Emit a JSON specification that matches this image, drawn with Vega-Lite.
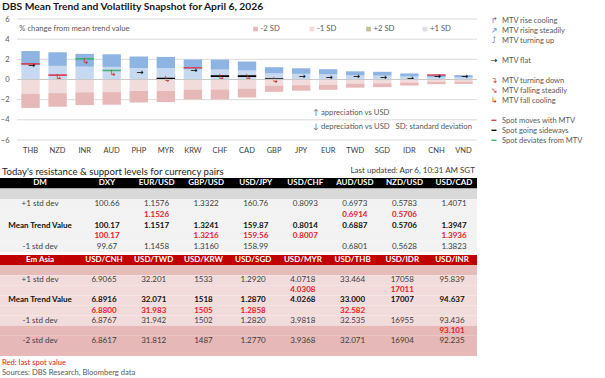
{
  "$schema": "https://vega.github.io/schema/vega-lite/v6.json",
  "width": 605,
  "height": 378,
  "padding": 0,
  "autosize": {"type": "none"},
  "background": "#ffffff",
  "config": {"view": {"stroke": null}, "font": "Lato", "axis": {"labelFont": "Lato"}},
  "datasets": {
    "one": [{"n": 1}],
    "grid": [{"v": -6}, {"v": -4}, {"v": -2}, {"v": 0}, {"v": 2}, {"v": 4}, {"v": 6}],
    "bars": [
      {"cur": "THB", "p1": 1.41, "p2": 2.82, "m1": -1.41, "m2": -2.82},
      {"cur": "NZD", "p1": 1.35, "p2": 2.70, "m1": -1.35, "m2": -2.70},
      {"cur": "INR", "p1": 1.27, "p2": 2.54, "m1": -1.27, "m2": -2.54},
      {"cur": "AUD", "p1": 1.25, "p2": 2.50, "m1": -1.25, "m2": -2.50},
      {"cur": "PHP", "p1": 1.14, "p2": 2.28, "m1": -1.14, "m2": -2.28},
      {"cur": "MYR", "p1": 1.12, "p2": 2.24, "m1": -1.12, "m2": -2.24},
      {"cur": "KRW", "p1": 0.99, "p2": 1.98, "m1": -0.99, "m2": -1.98},
      {"cur": "CHF", "p1": 0.985, "p2": 1.97, "m1": -0.985, "m2": -1.97},
      {"cur": "CAD", "p1": 0.89, "p2": 1.78, "m1": -0.89, "m2": -1.78},
      {"cur": "GBP", "p1": 0.61, "p2": 1.22, "m1": -0.61, "m2": -1.22},
      {"cur": "JPY", "p1": 0.56, "p2": 1.11, "m1": -0.56, "m2": -1.11},
      {"cur": "EUR", "p1": 0.51, "p2": 1.02, "m1": -0.51, "m2": -1.02},
      {"cur": "TWD", "p1": 0.405, "p2": 0.81, "m1": -0.405, "m2": -0.81},
      {"cur": "SGD", "p1": 0.38, "p2": 0.76, "m1": -0.38, "m2": -0.76},
      {"cur": "IDR", "p1": 0.30, "p2": 0.60, "m1": -0.30, "m2": -0.60},
      {"cur": "CNH", "p1": 0.23, "p2": 0.46, "m1": -0.23, "m2": -0.46},
      {"cur": "VND", "p1": 0.215, "p2": 0.43, "m1": -0.215, "m2": -0.43}
    ],
    "lines": [
      {"cur": "THB", "v": 1.55, "kind": "moves"},
      {"cur": "NZD", "v": 0.43, "kind": "moves"},
      {"cur": "INR", "v": 2.05, "kind": "deviates"},
      {"cur": "AUD", "v": 0.89, "kind": "deviates"},
      {"cur": "MYR", "v": 0.10, "kind": "sideways"},
      {"cur": "KRW", "v": 1.16, "kind": "moves"},
      {"cur": "CHF", "v": 0.33, "kind": "sideways"},
      {"cur": "CAD", "v": 0.33, "kind": "sideways"},
      {"cur": "GBP", "v": 0.04, "kind": "sideways"},
      {"cur": "CNH", "v": 0.45, "kind": "moves"}
    ],
    "arrows": [
      {"cur": "THB", "v": 1.42, "dir": "flat"},
      {"cur": "NZD", "v": 0.23, "dir": "fallcool"},
      {"cur": "INR", "v": 1.80, "dir": "fallcool"},
      {"cur": "AUD", "v": 0.60, "dir": "fallcool"},
      {"cur": "PHP", "v": 0.73, "dir": "flat"},
      {"cur": "MYR", "v": 0.05, "dir": "fallcool"},
      {"cur": "KRW", "v": 0.93, "dir": "flat"},
      {"cur": "CHF", "v": 0.25, "dir": "fallcool"},
      {"cur": "CAD", "v": 0.25, "dir": "fallcool"},
      {"cur": "GBP", "v": -0.06, "dir": "fallcool"},
      {"cur": "JPY", "v": 0.30, "dir": "flat"},
      {"cur": "EUR", "v": 0.20, "dir": "flat"},
      {"cur": "TWD", "v": 0.37, "dir": "flat"},
      {"cur": "SGD", "v": 0.20, "dir": "flat"},
      {"cur": "IDR", "v": 0.18, "dir": "flat"},
      {"cur": "CNH", "v": 0.30, "dir": "flat"},
      {"cur": "VND", "v": 0.30, "dir": "flat"}
    ],
    "sdleg": [
      {"k": "-2 SD"}, {"k": "-1 SD"}, {"k": "+2 SD"}, {"k": "+1 SD"}
    ],
    "mtvleg": [
      {"slot": "s0", "icon": "↱", "label": "MTV rise cooling", "kind": "up"},
      {"slot": "s1", "icon": "↗", "label": "MTV rising steadily", "kind": "up"},
      {"slot": "s2", "icon": "⤴", "label": "MTV turning up", "kind": "up"},
      {"slot": "s4", "icon": "→", "label": "MTV flat", "kind": "flat"},
      {"slot": "s6", "icon": "↴", "label": "MTV turning down", "kind": "down"},
      {"slot": "s7", "icon": "↘", "label": "MTV falling steadily", "kind": "down"},
      {"slot": "s8", "icon": "↳", "label": "MTV fall cooling", "kind": "down"},
      {"slot": "s10", "icon": "━", "label": "Spot moves with MTV", "kind": "moves"},
      {"slot": "s11", "icon": "━", "label": "Spot going sideways", "kind": "sideways"},
      {"slot": "s12", "icon": "━", "label": "Spot deviates from MTV", "kind": "deviates"}
    ],
    "dm_bg": [
      {"row": "hdr", "tone": "hdr"}, {"row": "blank", "tone": "blank"},
      {"row": "r1", "tone": "body"}, {"row": "r2", "tone": "body"}, {"row": "r3", "tone": "body"},
      {"row": "r4", "tone": "body"}, {"row": "r5", "tone": "body"}
    ],
    "dm": [
      {"row": "hdr", "col": "label", "txt": "DM", "sty": "h"},
      {"row": "hdr", "col": "DXY", "txt": "DXY", "sty": "h"},
      {"row": "hdr", "col": "EUR/USD", "txt": "EUR/USD", "sty": "h"},
      {"row": "hdr", "col": "GBP/USD", "txt": "GBP/USD", "sty": "h"},
      {"row": "hdr", "col": "USD/JPY", "txt": "USD/JPY", "sty": "h"},
      {"row": "hdr", "col": "USD/CHF", "txt": "USD/CHF", "sty": "h"},
      {"row": "hdr", "col": "AUD/USD", "txt": "AUD/USD", "sty": "h"},
      {"row": "hdr", "col": "NZD/USD", "txt": "NZD/USD", "sty": "h"},
      {"row": "hdr", "col": "USD/CAD", "txt": "USD/CAD", "sty": "h"},
      {"row": "r1", "col": "label", "txt": "+1 std dev", "sty": "n"},
      {"row": "r1", "col": "DXY", "txt": "100.66", "sty": "n"},
      {"row": "r1", "col": "EUR/USD", "txt": "1.1576", "sty": "n"},
      {"row": "r1", "col": "GBP/USD", "txt": "1.3322", "sty": "n"},
      {"row": "r1", "col": "USD/JPY", "txt": "160.76", "sty": "n"},
      {"row": "r1", "col": "USD/CHF", "txt": "0.8093", "sty": "n"},
      {"row": "r1", "col": "AUD/USD", "txt": "0.6973", "sty": "n"},
      {"row": "r1", "col": "NZD/USD", "txt": "0.5783", "sty": "n"},
      {"row": "r1", "col": "USD/CAD", "txt": "1.4071", "sty": "n"},
      {"row": "r2", "col": "EUR/USD", "txt": "1.1526", "sty": "r"},
      {"row": "r2", "col": "AUD/USD", "txt": "0.6914", "sty": "r"},
      {"row": "r2", "col": "NZD/USD", "txt": "0.5706", "sty": "r"},
      {"row": "r3", "col": "label", "txt": "Mean Trend Value", "sty": "b"},
      {"row": "r3", "col": "DXY", "txt": "100.17", "sty": "b"},
      {"row": "r3", "col": "EUR/USD", "txt": "1.1517", "sty": "b"},
      {"row": "r3", "col": "GBP/USD", "txt": "1.3241", "sty": "b"},
      {"row": "r3", "col": "USD/JPY", "txt": "159.87", "sty": "b"},
      {"row": "r3", "col": "USD/CHF", "txt": "0.8014", "sty": "b"},
      {"row": "r3", "col": "AUD/USD", "txt": "0.6887", "sty": "b"},
      {"row": "r3", "col": "NZD/USD", "txt": "0.5706", "sty": "b"},
      {"row": "r3", "col": "USD/CAD", "txt": "1.3947", "sty": "b"},
      {"row": "r4", "col": "DXY", "txt": "100.17", "sty": "r"},
      {"row": "r4", "col": "GBP/USD", "txt": "1.3216", "sty": "r"},
      {"row": "r4", "col": "USD/JPY", "txt": "159.56", "sty": "r"},
      {"row": "r4", "col": "USD/CHF", "txt": "0.8007", "sty": "r"},
      {"row": "r4", "col": "USD/CAD", "txt": "1.3936", "sty": "r"},
      {"row": "r5", "col": "label", "txt": "-1 std dev", "sty": "n"},
      {"row": "r5", "col": "DXY", "txt": "99.67", "sty": "n"},
      {"row": "r5", "col": "EUR/USD", "txt": "1.1458", "sty": "n"},
      {"row": "r5", "col": "GBP/USD", "txt": "1.3160", "sty": "n"},
      {"row": "r5", "col": "USD/JPY", "txt": "158.99", "sty": "n"},
      {"row": "r5", "col": "AUD/USD", "txt": "0.6801", "sty": "n"},
      {"row": "r5", "col": "NZD/USD", "txt": "0.5628", "sty": "n"},
      {"row": "r5", "col": "USD/CAD", "txt": "1.3823", "sty": "n"}
    ],
    "em_bg": [
      {"row": "hdr", "tone": "hdr"}, {"row": "blank", "tone": "blank"},
      {"row": "r1", "tone": "body"}, {"row": "r2", "tone": "body"}, {"row": "r3", "tone": "body"},
      {"row": "r4", "tone": "body"}, {"row": "r5", "tone": "body"},
      {"row": "s1", "tone": "low"}, {"row": "s2", "tone": "low"}, {"row": "s3", "tone": "low"}
    ],
    "em": [
      {"row": "hdr", "col": "label", "txt": "Em Asia", "sty": "h"},
      {"row": "hdr", "col": "USD/CNH", "txt": "USD/CNH", "sty": "h"},
      {"row": "hdr", "col": "USD/TWD", "txt": "USD/TWD", "sty": "h"},
      {"row": "hdr", "col": "USD/KRW", "txt": "USD/KRW", "sty": "h"},
      {"row": "hdr", "col": "USD/SGD", "txt": "USD/SGD", "sty": "h"},
      {"row": "hdr", "col": "USD/MYR", "txt": "USD/MYR", "sty": "h"},
      {"row": "hdr", "col": "USD/THB", "txt": "USD/THB", "sty": "h"},
      {"row": "hdr", "col": "USD/IDR", "txt": "USD/IDR", "sty": "h"},
      {"row": "hdr", "col": "USD/INR", "txt": "USD/INR", "sty": "h"},
      {"row": "r1", "col": "label", "txt": "+1 std dev", "sty": "n"},
      {"row": "r1", "col": "USD/CNH", "txt": "6.9065", "sty": "n"},
      {"row": "r1", "col": "USD/TWD", "txt": "32.201", "sty": "n"},
      {"row": "r1", "col": "USD/KRW", "txt": "1533", "sty": "n"},
      {"row": "r1", "col": "USD/SGD", "txt": "1.2920", "sty": "n"},
      {"row": "r1", "col": "USD/MYR", "txt": "4.0718", "sty": "n"},
      {"row": "r1", "col": "USD/THB", "txt": "33.464", "sty": "n"},
      {"row": "r1", "col": "USD/IDR", "txt": "17058", "sty": "n"},
      {"row": "r1", "col": "USD/INR", "txt": "95.839", "sty": "n"},
      {"row": "r2", "col": "USD/MYR", "txt": "4.0308", "sty": "r"},
      {"row": "r2", "col": "USD/IDR", "txt": "17011", "sty": "r"},
      {"row": "r3", "col": "label", "txt": "Mean Trend Value", "sty": "b"},
      {"row": "r3", "col": "USD/CNH", "txt": "6.8916", "sty": "b"},
      {"row": "r3", "col": "USD/TWD", "txt": "32.071", "sty": "b"},
      {"row": "r3", "col": "USD/KRW", "txt": "1518", "sty": "b"},
      {"row": "r3", "col": "USD/SGD", "txt": "1.2870", "sty": "b"},
      {"row": "r3", "col": "USD/MYR", "txt": "4.0268", "sty": "b"},
      {"row": "r3", "col": "USD/THB", "txt": "33.000", "sty": "b"},
      {"row": "r3", "col": "USD/IDR", "txt": "17007", "sty": "b"},
      {"row": "r3", "col": "USD/INR", "txt": "94.637", "sty": "b"},
      {"row": "r4", "col": "USD/CNH", "txt": "6.8800", "sty": "r"},
      {"row": "r4", "col": "USD/TWD", "txt": "31.983", "sty": "r"},
      {"row": "r4", "col": "USD/KRW", "txt": "1505", "sty": "r"},
      {"row": "r4", "col": "USD/SGD", "txt": "1.2858", "sty": "r"},
      {"row": "r4", "col": "USD/THB", "txt": "32.582", "sty": "r"},
      {"row": "r5", "col": "label", "txt": "-1 std dev", "sty": "n"},
      {"row": "r5", "col": "USD/CNH", "txt": "6.8767", "sty": "n"},
      {"row": "r5", "col": "USD/TWD", "txt": "31.942", "sty": "n"},
      {"row": "r5", "col": "USD/KRW", "txt": "1502", "sty": "n"},
      {"row": "r5", "col": "USD/SGD", "txt": "1.2820", "sty": "n"},
      {"row": "r5", "col": "USD/MYR", "txt": "3.9818", "sty": "n"},
      {"row": "r5", "col": "USD/THB", "txt": "32.535", "sty": "n"},
      {"row": "r5", "col": "USD/IDR", "txt": "16955", "sty": "n"},
      {"row": "r5", "col": "USD/INR", "txt": "93.436", "sty": "n"},
      {"row": "s1", "col": "USD/INR", "txt": "93.101", "sty": "r"},
      {"row": "s2", "col": "label", "txt": "-2 std dev", "sty": "n"},
      {"row": "s2", "col": "USD/CNH", "txt": "6.8617", "sty": "n"},
      {"row": "s2", "col": "USD/TWD", "txt": "31.812", "sty": "n"},
      {"row": "s2", "col": "USD/KRW", "txt": "1487", "sty": "n"},
      {"row": "s2", "col": "USD/SGD", "txt": "1.2770", "sty": "n"},
      {"row": "s2", "col": "USD/MYR", "txt": "3.9368", "sty": "n"},
      {"row": "s2", "col": "USD/THB", "txt": "32.071", "sty": "n"},
      {"row": "s2", "col": "USD/IDR", "txt": "16904", "sty": "n"},
      {"row": "s2", "col": "USD/INR", "txt": "92.235", "sty": "n"}
    ]
  },
  "layer": [
    {
      "layer": [
        {
          "data": {"name": "grid"},
          "mark": {"type": "rule", "color": "#d9d9d9", "strokeWidth": 1},
          "encoding": {
            "x": {"datum": 0, "type": "quantitative", "scale": {"domain": [0, 1], "range": [17, 477]}, "axis": null},
            "x2": {"datum": 1},
            "y": {"field": "v", "type": "quantitative", "scale": {"domain": [-6, 6], "range": [140, 19], "nice": false, "zero": false}, "axis": null}
          }
        },
        {
          "data": {"name": "one"},
          "mark": {"type": "text", "align": "left", "baseline": "middle", "fontSize": 7.7, "color": "#595959"},
          "encoding": {
            "x": {"datum": 0.005, "type": "quantitative", "scale": {"domain": [0, 1], "range": [17, 477]}, "axis": null},
            "y": {"datum": 5, "type": "quantitative", "scale": {"domain": [-6, 6], "range": [140, 19], "nice": false, "zero": false}, "axis": null},
            "text": {"value": "% change from mean trend value"}
          }
        },
        {
          "data": {"name": "one"},
          "mark": {"type": "text", "align": "left", "baseline": "middle", "fontSize": 7.7, "color": "#595959"},
          "encoding": {
            "x": {"datum": 0.644, "type": "quantitative", "scale": {"domain": [0, 1], "range": [17, 477]}, "axis": null},
            "y": {"datum": -3.33, "type": "quantitative", "scale": {"domain": [-6, 6], "range": [140, 19], "nice": false, "zero": false}, "axis": null},
            "text": {"value": "↑ appreciation vs USD"}
          }
        },
        {
          "data": {"name": "one"},
          "mark": {"type": "text", "align": "left", "baseline": "middle", "fontSize": 7.7, "color": "#595959"},
          "encoding": {
            "x": {"datum": 0.644, "type": "quantitative", "scale": {"domain": [0, 1], "range": [17, 477]}, "axis": null},
            "y": {"datum": -4.71, "type": "quantitative", "scale": {"domain": [-6, 6], "range": [140, 19], "nice": false, "zero": false}, "axis": null},
            "text": {"value": "↓ depreciation vs USD"}
          }
        },
        {
          "data": {"name": "one"},
          "mark": {"type": "text", "align": "left", "baseline": "middle", "fontSize": 7.7, "color": "#595959"},
          "encoding": {
            "x": {"datum": 0.823, "type": "quantitative", "scale": {"domain": [0, 1], "range": [17, 477]}, "axis": null},
            "y": {"datum": -4.71, "type": "quantitative", "scale": {"domain": [-6, 6], "range": [140, 19], "nice": false, "zero": false}, "axis": null},
            "text": {"value": "SD: standard deviation"}
          }
        }
      ]
    },
    {
      "data": {"name": "sdleg"},
      "layer": [
        {
          "mark": {"type": "square", "size": 22, "opacity": 1},
          "encoding": {
            "x": {"field": "k", "type": "nominal", "scale": {"type": "point", "domain": ["-2 SD", "-1 SD", "+2 SD", "+1 SD"], "range": [255.5, 425], "padding": 0}, "axis": null},
            "y": {"datum": 5, "type": "quantitative", "scale": {"domain": [-6, 6], "range": [140, 19], "nice": false, "zero": false}, "axis": null},
            "fill": {"field": "k", "type": "nominal", "scale": {"domain": ["-2 SD", "-1 SD", "+2 SD", "+1 SD"], "range": ["#e6b8b7", "#f2dcdb", "#c4bd97", "#dedede"]}, "legend": null}
          }
        },
        {
          "mark": {"type": "text", "align": "left", "baseline": "middle", "fontSize": 7.7, "color": "#595959", "dx": 5},
          "encoding": {
            "x": {"field": "k", "type": "nominal", "scale": {"type": "point", "domain": ["-2 SD", "-1 SD", "+2 SD", "+1 SD"], "range": [255.5, 425], "padding": 0}, "axis": null},
            "y": {"datum": 5, "type": "quantitative", "scale": {"domain": [-6, 6], "range": [140, 19], "nice": false, "zero": false}, "axis": null},
            "text": {"field": "k"}
          }
        }
      ]
    },
    {
      "layer": [
        {
          "data": {"name": "bars"},
          "mark": {"type": "bar", "color": "#c6d9f1"},
          "encoding": {
            "x": {"field": "cur", "type": "nominal", "scale": {"type": "band", "domain": ["THB","NZD","INR","AUD","PHP","MYR","KRW","CHF","CAD","GBP","JPY","EUR","TWD","SGD","IDR","CNH","VND"], "range": [17, 477], "paddingInner": 0.32, "paddingOuter": 0.16}, "axis": {"orient": "bottom", "offset": -238, "domain": false, "ticks": false, "labelPadding": 6, "labelFontSize": 7.5, "labelColor": "#404040", "labelAngle": 0, "title": null}},
            "y": {"field": "p1", "type": "quantitative", "scale": {"domain": [-6, 6], "range": [140, 19], "nice": false, "zero": false}, "axis": {"orient": "left", "offset": -17, "domain": false, "ticks": false, "grid": false, "labelPadding": 8, "values": [-6, -4, -2, 0, 2, 4, 6], "labelFontSize": 7.5, "labelColor": "#595959", "title": null}},
            "y2": {"datum": 0}
          }
        },
        {
          "data": {"name": "bars"},
          "mark": {"type": "bar", "color": "#8db4e2"},
          "encoding": {
            "x": {"field": "cur", "type": "nominal", "scale": {"type": "band", "domain": ["THB","NZD","INR","AUD","PHP","MYR","KRW","CHF","CAD","GBP","JPY","EUR","TWD","SGD","IDR","CNH","VND"], "range": [17, 477], "paddingInner": 0.32, "paddingOuter": 0.16}, "axis": {"orient": "bottom", "offset": -238, "domain": false, "ticks": false, "labelPadding": 6, "labelFontSize": 7.5, "labelColor": "#404040", "labelAngle": 0, "title": null}},
            "y": {"field": "p2", "type": "quantitative", "scale": {"domain": [-6, 6], "range": [140, 19], "nice": false, "zero": false}, "axis": {"orient": "left", "offset": -17, "domain": false, "ticks": false, "grid": false, "labelPadding": 8, "values": [-6, -4, -2, 0, 2, 4, 6], "labelFontSize": 7.5, "labelColor": "#595959", "title": null}},
            "y2": {"field": "p1"}
          }
        },
        {
          "data": {"name": "bars"},
          "mark": {"type": "bar", "color": "#f2dcdb"},
          "encoding": {
            "x": {"field": "cur", "type": "nominal", "scale": {"type": "band", "domain": ["THB","NZD","INR","AUD","PHP","MYR","KRW","CHF","CAD","GBP","JPY","EUR","TWD","SGD","IDR","CNH","VND"], "range": [17, 477], "paddingInner": 0.32, "paddingOuter": 0.16}, "axis": {"orient": "bottom", "offset": -238, "domain": false, "ticks": false, "labelPadding": 6, "labelFontSize": 7.5, "labelColor": "#404040", "labelAngle": 0, "title": null}},
            "y": {"field": "m1", "type": "quantitative", "scale": {"domain": [-6, 6], "range": [140, 19], "nice": false, "zero": false}, "axis": {"orient": "left", "offset": -17, "domain": false, "ticks": false, "grid": false, "labelPadding": 8, "values": [-6, -4, -2, 0, 2, 4, 6], "labelFontSize": 7.5, "labelColor": "#595959", "title": null}},
            "y2": {"datum": 0}
          }
        },
        {
          "data": {"name": "bars"},
          "mark": {"type": "bar", "color": "#e6b8b7"},
          "encoding": {
            "x": {"field": "cur", "type": "nominal", "scale": {"type": "band", "domain": ["THB","NZD","INR","AUD","PHP","MYR","KRW","CHF","CAD","GBP","JPY","EUR","TWD","SGD","IDR","CNH","VND"], "range": [17, 477], "paddingInner": 0.32, "paddingOuter": 0.16}, "axis": {"orient": "bottom", "offset": -238, "domain": false, "ticks": false, "labelPadding": 6, "labelFontSize": 7.5, "labelColor": "#404040", "labelAngle": 0, "title": null}},
            "y": {"field": "m2", "type": "quantitative", "scale": {"domain": [-6, 6], "range": [140, 19], "nice": false, "zero": false}, "axis": {"orient": "left", "offset": -17, "domain": false, "ticks": false, "grid": false, "labelPadding": 8, "values": [-6, -4, -2, 0, 2, 4, 6], "labelFontSize": 7.5, "labelColor": "#595959", "title": null}},
            "y2": {"field": "m1"}
          }
        },
        {
          "data": {"name": "lines"},
          "mark": {"type": "bar", "strokeWidth": 1.6, "fillOpacity": 0},
          "encoding": {
            "x": {"field": "cur", "type": "nominal", "scale": {"type": "band", "domain": ["THB","NZD","INR","AUD","PHP","MYR","KRW","CHF","CAD","GBP","JPY","EUR","TWD","SGD","IDR","CNH","VND"], "range": [17, 477], "paddingInner": 0.32, "paddingOuter": 0.16}, "axis": {"orient": "bottom", "offset": -238, "domain": false, "ticks": false, "labelPadding": 6, "labelFontSize": 7.5, "labelColor": "#404040", "labelAngle": 0, "title": null}},
            "y": {"field": "v", "type": "quantitative", "scale": {"domain": [-6, 6], "range": [140, 19], "nice": false, "zero": false}, "axis": {"orient": "left", "offset": -17, "domain": false, "ticks": false, "grid": false, "labelPadding": 8, "values": [-6, -4, -2, 0, 2, 4, 6], "labelFontSize": 7.5, "labelColor": "#595959", "title": null}},
            "y2": {"field": "v"},
            "stroke": {"field": "kind", "type": "nominal", "scale": {"domain": ["moves", "sideways", "deviates"], "range": ["#d6455a", "#000000", "#3cb371"]}, "legend": null}
          }
        },
        {
          "data": {"name": "arrows"},
          "transform": [{"filter": "datum.dir == 'flat'"}],
          "mark": {"type": "text", "text": "→", "font": "DejaVu Sans", "fontSize": 8.5, "color": "#000000", "baseline": "middle", "dx": 1},
          "encoding": {
            "x": {"field": "cur", "type": "nominal", "scale": {"type": "band", "domain": ["THB","NZD","INR","AUD","PHP","MYR","KRW","CHF","CAD","GBP","JPY","EUR","TWD","SGD","IDR","CNH","VND"], "range": [17, 477], "paddingInner": 0.32, "paddingOuter": 0.16}, "axis": {"orient": "bottom", "offset": -238, "domain": false, "ticks": false, "labelPadding": 6, "labelFontSize": 7.5, "labelColor": "#404040", "labelAngle": 0, "title": null}},
            "y": {"field": "v", "type": "quantitative", "scale": {"domain": [-6, 6], "range": [140, 19], "nice": false, "zero": false}, "axis": {"orient": "left", "offset": -17, "domain": false, "ticks": false, "grid": false, "labelPadding": 8, "values": [-6, -4, -2, 0, 2, 4, 6], "labelFontSize": 7.5, "labelColor": "#595959", "title": null}}
          }
        },
        {
          "data": {"name": "arrows"},
          "transform": [{"filter": "datum.dir == 'fallcool'"}],
          "mark": {"type": "text", "text": "↳", "font": "DejaVu Sans", "fontSize": 8.5, "color": "#c0392b", "baseline": "middle", "dx": 1},
          "encoding": {
            "x": {"field": "cur", "type": "nominal", "scale": {"type": "band", "domain": ["THB","NZD","INR","AUD","PHP","MYR","KRW","CHF","CAD","GBP","JPY","EUR","TWD","SGD","IDR","CNH","VND"], "range": [17, 477], "paddingInner": 0.32, "paddingOuter": 0.16}, "axis": {"orient": "bottom", "offset": -238, "domain": false, "ticks": false, "labelPadding": 6, "labelFontSize": 7.5, "labelColor": "#404040", "labelAngle": 0, "title": null}},
            "y": {"field": "v", "type": "quantitative", "scale": {"domain": [-6, 6], "range": [140, 19], "nice": false, "zero": false}, "axis": {"orient": "left", "offset": -17, "domain": false, "ticks": false, "grid": false, "labelPadding": 8, "values": [-6, -4, -2, 0, 2, 4, 6], "labelFontSize": 7.5, "labelColor": "#595959", "title": null}}
          }
        }
      ]
    },
    {
      "data": {"name": "one"},
      "mark": {"type": "rule", "color": "#c8c8c8", "strokeWidth": 1},
      "encoding": {
        "x": {"datum": 0, "type": "quantitative", "scale": {"domain": [0, 1], "range": [17, 477]}, "axis": null},
        "x2": {"datum": 1},
        "y": {"datum": 0, "type": "quantitative", "scale": {"domain": [-6, 6], "range": [140, 19], "nice": false, "zero": false}, "axis": null}
      }
    },
    {
      "data": {"name": "mtvleg"},
      "layer": [
        {
          "mark": {"type": "text", "align": "center", "baseline": "middle", "font": "DejaVu Sans", "fontSize": 8},
          "encoding": {
            "x": {"datum": "icon", "type": "nominal", "scale": {"type": "point", "domain": ["icon", "label"], "range": [494, 502], "padding": 0}, "axis": null},
            "y": {"field": "slot", "type": "nominal", "scale": {"type": "point", "domain": ["s0","s1","s2","s3","s4","s5","s6","s7","s8","s9","s10","s11","s12"], "range": [20.7, 141], "padding": 0}, "axis": null},
            "text": {"field": "icon"},
            "color": {"field": "kind", "type": "nominal", "scale": {"domain": ["up", "flat", "down", "moves", "sideways", "deviates"], "range": ["#4f81bd", "#000000", "#c0392b", "#d6455a", "#000000", "#3cb371"]}, "legend": null}
          }
        },
        {
          "mark": {"type": "text", "align": "left", "baseline": "middle", "fontSize": 7.5, "color": "#595959"},
          "encoding": {
            "x": {"datum": "label", "type": "nominal", "scale": {"type": "point", "domain": ["icon", "label"], "range": [494, 502], "padding": 0}, "axis": null},
            "y": {"field": "slot", "type": "nominal", "scale": {"type": "point", "domain": ["s0","s1","s2","s3","s4","s5","s6","s7","s8","s9","s10","s11","s12"], "range": [20.7, 141], "padding": 0}, "axis": null},
            "text": {"field": "label"}
          }
        }
      ]
    },
    {
      "layer": [
        {
          "data": {"name": "dm_bg"},
          "mark": {"type": "rect"},
          "encoding": {
            "x": {"datum": 0, "type": "quantitative", "scale": {"domain": [0, 1], "range": [0, 477]}, "axis": null},
            "x2": {"datum": 1},
            "y": {"field": "row", "type": "nominal", "scale": {"type": "band", "domain": ["hdr","blank","r1","r2","r3","r4","r5"], "range": [178, 252], "paddingInner": 0, "paddingOuter": 0}, "axis": null},
            "fill": {"field": "tone", "type": "nominal", "scale": {"domain": ["hdr", "blank", "body"], "range": ["#000000", "#d9d9d9", "#f2f2f2"]}, "legend": null}
          }
        },
        {
          "data": {"name": "dm"},
          "transform": [{"filter": "datum.col != 'label' && datum.sty == 'n'"}],
          "mark": {"type": "text", "fontSize": 8, "baseline": "middle"},
          "encoding": {
            "x": {"field": "col", "type": "nominal", "scale": {"type": "point", "domain": ["DXY","EUR/USD","GBP/USD","USD/JPY","USD/CHF","AUD/USD","NZD/USD","USD/CAD"], "range": [107, 454], "padding": 0}, "axis": null},
            "y": {"field": "row", "type": "nominal", "scale": {"type": "band", "domain": ["hdr","blank","r1","r2","r3","r4","r5"], "range": [178, 252], "paddingInner": 0, "paddingOuter": 0}, "axis": null},
            "text": {"field": "txt"},
            "color": {"field": "sty", "type": "nominal", "scale": {"domain": ["n", "b", "r", "h"], "range": ["#404040", "#111111", "#e8202a", "#ffffff"]}, "legend": null}
          }
        },
        {
          "data": {"name": "dm"},
          "transform": [{"filter": "datum.col != 'label' && datum.sty != 'n'"}],
          "mark": {"type": "text", "fontSize": 8, "fontWeight": "bold", "baseline": "middle"},
          "encoding": {
            "x": {"field": "col", "type": "nominal", "scale": {"type": "point", "domain": ["DXY","EUR/USD","GBP/USD","USD/JPY","USD/CHF","AUD/USD","NZD/USD","USD/CAD"], "range": [107, 454], "padding": 0}, "axis": null},
            "y": {"field": "row", "type": "nominal", "scale": {"type": "band", "domain": ["hdr","blank","r1","r2","r3","r4","r5"], "range": [178, 252], "paddingInner": 0, "paddingOuter": 0}, "axis": null},
            "text": {"field": "txt"},
            "color": {"field": "sty", "type": "nominal", "scale": {"domain": ["n", "b", "r", "h"], "range": ["#404040", "#111111", "#e8202a", "#ffffff"]}, "legend": null}
          }
        },
        {
          "data": {"name": "dm"},
          "transform": [{"filter": "datum.col == 'label' && datum.sty == 'n'"}],
          "mark": {"type": "text", "fontSize": 8, "baseline": "middle"},
          "encoding": {
            "x": {"datum": 0.084, "type": "quantitative", "scale": {"domain": [0, 1], "range": [0, 477]}, "axis": null},
            "y": {"field": "row", "type": "nominal", "scale": {"type": "band", "domain": ["hdr","blank","r1","r2","r3","r4","r5"], "range": [178, 252], "paddingInner": 0, "paddingOuter": 0}, "axis": null},
            "text": {"field": "txt"},
            "color": {"field": "sty", "type": "nominal", "scale": {"domain": ["n", "b", "r", "h"], "range": ["#404040", "#111111", "#e8202a", "#ffffff"]}, "legend": null}
          }
        },
        {
          "data": {"name": "dm"},
          "transform": [{"filter": "datum.col == 'label' && datum.sty != 'n'"}],
          "mark": {"type": "text", "fontSize": 8, "fontWeight": "bold", "baseline": "middle"},
          "encoding": {
            "x": {"datum": 0.084, "type": "quantitative", "scale": {"domain": [0, 1], "range": [0, 477]}, "axis": null},
            "y": {"field": "row", "type": "nominal", "scale": {"type": "band", "domain": ["hdr","blank","r1","r2","r3","r4","r5"], "range": [178, 252], "paddingInner": 0, "paddingOuter": 0}, "axis": null},
            "text": {"field": "txt"},
            "color": {"field": "sty", "type": "nominal", "scale": {"domain": ["n", "b", "r", "h"], "range": ["#404040", "#111111", "#e8202a", "#ffffff"]}, "legend": null}
          }
        }
      ],
      "resolve": {"scale": {"x": "independent"}}
    },
    {
      "layer": [
        {
          "data": {"name": "em_bg"},
          "mark": {"type": "rect"},
          "encoding": {
            "x": {"datum": 0, "type": "quantitative", "scale": {"domain": [0, 1], "range": [0, 477]}, "axis": null},
            "x2": {"datum": 1},
            "y": {"field": "row", "type": "nominal", "scale": {"type": "band", "domain": ["hdr","blank","r1","r2","r3","r4","r5","s1","s2","s3"], "range": [255, 356], "paddingInner": 0, "paddingOuter": 0}, "axis": null},
            "fill": {"field": "tone", "type": "nominal", "scale": {"domain": ["hdr", "blank", "body", "low"], "range": ["#c00000", "#e6bcbb", "#f2dcdb", "#e6b8b7"]}, "legend": null}
          }
        },
        {
          "data": {"name": "em"},
          "transform": [{"filter": "datum.col != 'label' && datum.sty == 'n'"}],
          "mark": {"type": "text", "fontSize": 8, "baseline": "middle"},
          "encoding": {
            "x": {"field": "col", "type": "nominal", "scale": {"type": "point", "domain": ["USD/CNH","USD/TWD","USD/KRW","USD/SGD","USD/MYR","USD/THB","USD/IDR","USD/INR"], "range": [104, 452], "padding": 0}, "axis": null},
            "y": {"field": "row", "type": "nominal", "scale": {"type": "band", "domain": ["hdr","blank","r1","r2","r3","r4","r5","s1","s2","s3"], "range": [255, 356], "paddingInner": 0, "paddingOuter": 0}, "axis": null},
            "text": {"field": "txt"},
            "color": {"field": "sty", "type": "nominal", "scale": {"domain": ["n", "b", "r", "h"], "range": ["#404040", "#111111", "#e8202a", "#ffffff"]}, "legend": null}
          }
        },
        {
          "data": {"name": "em"},
          "transform": [{"filter": "datum.col != 'label' && datum.sty != 'n'"}],
          "mark": {"type": "text", "fontSize": 8, "fontWeight": "bold", "baseline": "middle"},
          "encoding": {
            "x": {"field": "col", "type": "nominal", "scale": {"type": "point", "domain": ["USD/CNH","USD/TWD","USD/KRW","USD/SGD","USD/MYR","USD/THB","USD/IDR","USD/INR"], "range": [104, 452], "padding": 0}, "axis": null},
            "y": {"field": "row", "type": "nominal", "scale": {"type": "band", "domain": ["hdr","blank","r1","r2","r3","r4","r5","s1","s2","s3"], "range": [255, 356], "paddingInner": 0, "paddingOuter": 0}, "axis": null},
            "text": {"field": "txt"},
            "color": {"field": "sty", "type": "nominal", "scale": {"domain": ["n", "b", "r", "h"], "range": ["#404040", "#111111", "#e8202a", "#ffffff"]}, "legend": null}
          }
        },
        {
          "data": {"name": "em"},
          "transform": [{"filter": "datum.col == 'label' && datum.sty == 'n'"}],
          "mark": {"type": "text", "fontSize": 8, "baseline": "middle"},
          "encoding": {
            "x": {"datum": 0.084, "type": "quantitative", "scale": {"domain": [0, 1], "range": [0, 477]}, "axis": null},
            "y": {"field": "row", "type": "nominal", "scale": {"type": "band", "domain": ["hdr","blank","r1","r2","r3","r4","r5","s1","s2","s3"], "range": [255, 356], "paddingInner": 0, "paddingOuter": 0}, "axis": null},
            "text": {"field": "txt"},
            "color": {"field": "sty", "type": "nominal", "scale": {"domain": ["n", "b", "r", "h"], "range": ["#404040", "#111111", "#e8202a", "#ffffff"]}, "legend": null}
          }
        },
        {
          "data": {"name": "em"},
          "transform": [{"filter": "datum.col == 'label' && datum.sty != 'n'"}],
          "mark": {"type": "text", "fontSize": 8, "fontWeight": "bold", "baseline": "middle"},
          "encoding": {
            "x": {"datum": 0.084, "type": "quantitative", "scale": {"domain": [0, 1], "range": [0, 477]}, "axis": null},
            "y": {"field": "row", "type": "nominal", "scale": {"type": "band", "domain": ["hdr","blank","r1","r2","r3","r4","r5","s1","s2","s3"], "range": [255, 356], "paddingInner": 0, "paddingOuter": 0}, "axis": null},
            "text": {"field": "txt"},
            "color": {"field": "sty", "type": "nominal", "scale": {"domain": ["n", "b", "r", "h"], "range": ["#404040", "#111111", "#e8202a", "#ffffff"]}, "legend": null}
          }
        }
      ],
      "resolve": {"scale": {"x": "independent"}}
    },
    {
      "data": {"name": "one"},
      "layer": [
        {
          "mark": {"type": "text", "align": "left", "baseline": "middle", "fontSize": 10.3, "fontWeight": "bold", "color": "#1a1a1a"},
          "encoding": {
            "x": {"datum": 0.0033, "type": "quantitative", "scale": {"domain": [0, 1], "range": [0, 605]}, "axis": null},
            "y": {"datum": 0.018, "type": "quantitative", "scale": {"domain": [0, 1], "range": [0, 378]}, "axis": null},
            "text": {"value": "DBS Mean Trend and Volatility Snapshot for April 6, 2026"}
          }
        },
        {
          "mark": {"type": "text", "align": "left", "baseline": "middle", "fontSize": 9.6, "color": "#262626"},
          "encoding": {
            "x": {"datum": 0.0033, "type": "quantitative", "scale": {"domain": [0, 1], "range": [0, 605]}, "axis": null},
            "y": {"datum": 0.455, "type": "quantitative", "scale": {"domain": [0, 1], "range": [0, 378]}, "axis": null},
            "text": {"value": "Today's resistance & support levels for currency pairs"}
          }
        },
        {
          "mark": {"type": "text", "align": "right", "baseline": "middle", "fontSize": 8, "color": "#404040"},
          "encoding": {
            "x": {"datum": 0.785, "type": "quantitative", "scale": {"domain": [0, 1], "range": [0, 605]}, "axis": null},
            "y": {"datum": 0.4524, "type": "quantitative", "scale": {"domain": [0, 1], "range": [0, 378]}, "axis": null},
            "text": {"value": "Last updated: Apr 6, 10:31 AM SGT"}
          }
        },
        {
          "mark": {"type": "text", "align": "left", "baseline": "middle", "fontSize": 7.6, "color": "#e02020"},
          "encoding": {
            "x": {"datum": 0.0033, "type": "quantitative", "scale": {"domain": [0, 1], "range": [0, 605]}, "axis": null},
            "y": {"datum": 0.959, "type": "quantitative", "scale": {"domain": [0, 1], "range": [0, 378]}, "axis": null},
            "text": {"value": "Red: last spot value"}
          }
        },
        {
          "mark": {"type": "text", "align": "left", "baseline": "middle", "fontSize": 7.6, "color": "#595959"},
          "encoding": {
            "x": {"datum": 0.0033, "type": "quantitative", "scale": {"domain": [0, 1], "range": [0, 605]}, "axis": null},
            "y": {"datum": 0.988, "type": "quantitative", "scale": {"domain": [0, 1], "range": [0, 378]}, "axis": null},
            "text": {"value": "Sources: DBS Research, Bloomberg data"}
          }
        }
      ]
    }
  ],
  "resolve": {"scale": {"x": "independent", "y": "independent", "color": "independent", "fill": "independent", "stroke": "independent"}}
}
